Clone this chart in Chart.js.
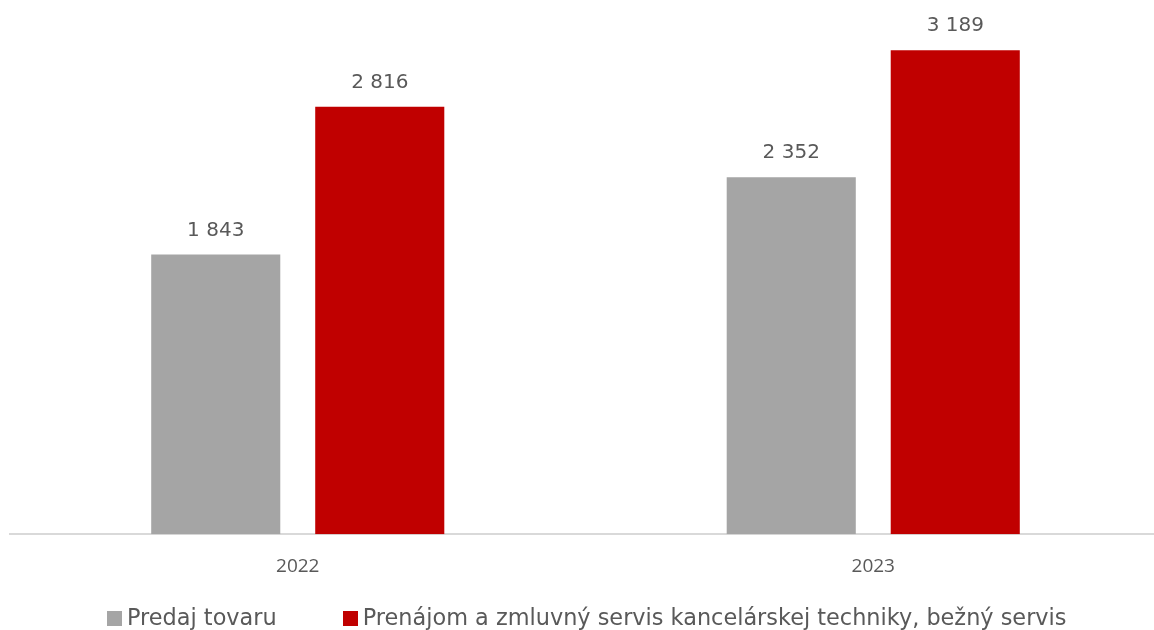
<!DOCTYPE html>
<html>
<head>
<meta charset="utf-8">
<script src="https://cdn.jsdelivr.net/npm/chart.js@4.4.1/dist/chart.umd.min.js"></script>
<style>
  html, body { margin: 0; padding: 0; background: #fff; overflow: hidden; }
  #wrap { position: relative; width: 1166px; height: 630px; }
  #legend {
    position: absolute; left: 107px; top: 603px;
    font-family: "DejaVu Sans", sans-serif; font-size: 22.4px; color: #595959;
    white-space: nowrap; line-height: 28px;
  }
  #legend .item { display: inline-block; }
  #legend .item + .item { margin-left: 66px; }
  #legend .box {
    display: inline-block; width: 15px; height: 15px;
    margin-right: 5px; vertical-align: -1px;
  }
</style>
</head>
<body>
<div id="wrap">
  <canvas id="barChart"></canvas>
  <div id="legend"></div>
</div>
<script>
const years = ["2022", "2023"];
const predaj = [1843, 2352];
const prenajom = [2816, 3189];
const seriesNames = [
  "Predaj tovaru",
  "Prenájom a zmluvný servis kancelárskej techniky, bežný servis",
];
const colors = ["#a5a5a5", "#c00000"];

// "1 843" style numbers
function fmt(v) {
  return String(v).replace(/\B(?=(\d{3})+(?!\d))/g, " ");
}

const valueLabels = {
  id: "valueLabels",
  afterDatasetsDraw(chart) {
    const ctx = chart.ctx;
    ctx.save();
    ctx.font = "20px 'DejaVu Sans'";
    ctx.fillStyle = "#595959";
    ctx.textAlign = "center";
    ctx.textBaseline = "middle";
    chart.data.datasets.forEach((ds, i) => {
      chart.getDatasetMeta(i).data.forEach((bar, j) => {
        ctx.fillText(fmt(ds.data[j]), bar.x, bar.y - 24);
      });
    });
    ctx.restore();
  },
};

window.onload = function () {
  const ctx = document.getElementById("barChart").getContext("2d");
  const chart = new Chart(ctx, {
    type: "bar",
    data: {
      labels: years,
      datasets: [
        {
          label: seriesNames[0],
          data: predaj,
          backgroundColor: colors[0],
          categoryPercentage: 0.57,
          barPercentage: 0.787,
        },
        {
          label: seriesNames[1],
          data: prenajom,
          backgroundColor: colors[1],
          categoryPercentage: 0.57,
          barPercentage: 0.787,
        },
      ],
    },
    options: {
      responsive: true,
      maintainAspectRatio: false,
      animation: false,
      layout: { padding: { top: 3, left: 10, right: 5, bottom: 39 } },
      plugins: {
        tooltip: { enabled: false },
        legend: { display: false },
      },
      scales: {
        x: {
          grid: { display: false },
          border: { color: "#d9d9d9", width: 2 },
          ticks: {
            color: "#595959",
            padding: 13,
            font: { family: "'Open Sans'", size: 19 },
          },
        },
        y: { display: false, min: 0, max: 3500 },
      },
    },
    plugins: [valueLabels],
  });

  // legend as html text under the chart
  const legend = document.getElementById("legend");
  chart.data.datasets.forEach((ds) => {
    const item = document.createElement("span");
    item.className = "item";
    const box = document.createElement("span");
    box.className = "box";
    box.style.background = ds.backgroundColor;
    item.appendChild(box);
    item.appendChild(document.createTextNode(ds.label));
    legend.appendChild(item);
  });
};
</script>
</body>
</html>
